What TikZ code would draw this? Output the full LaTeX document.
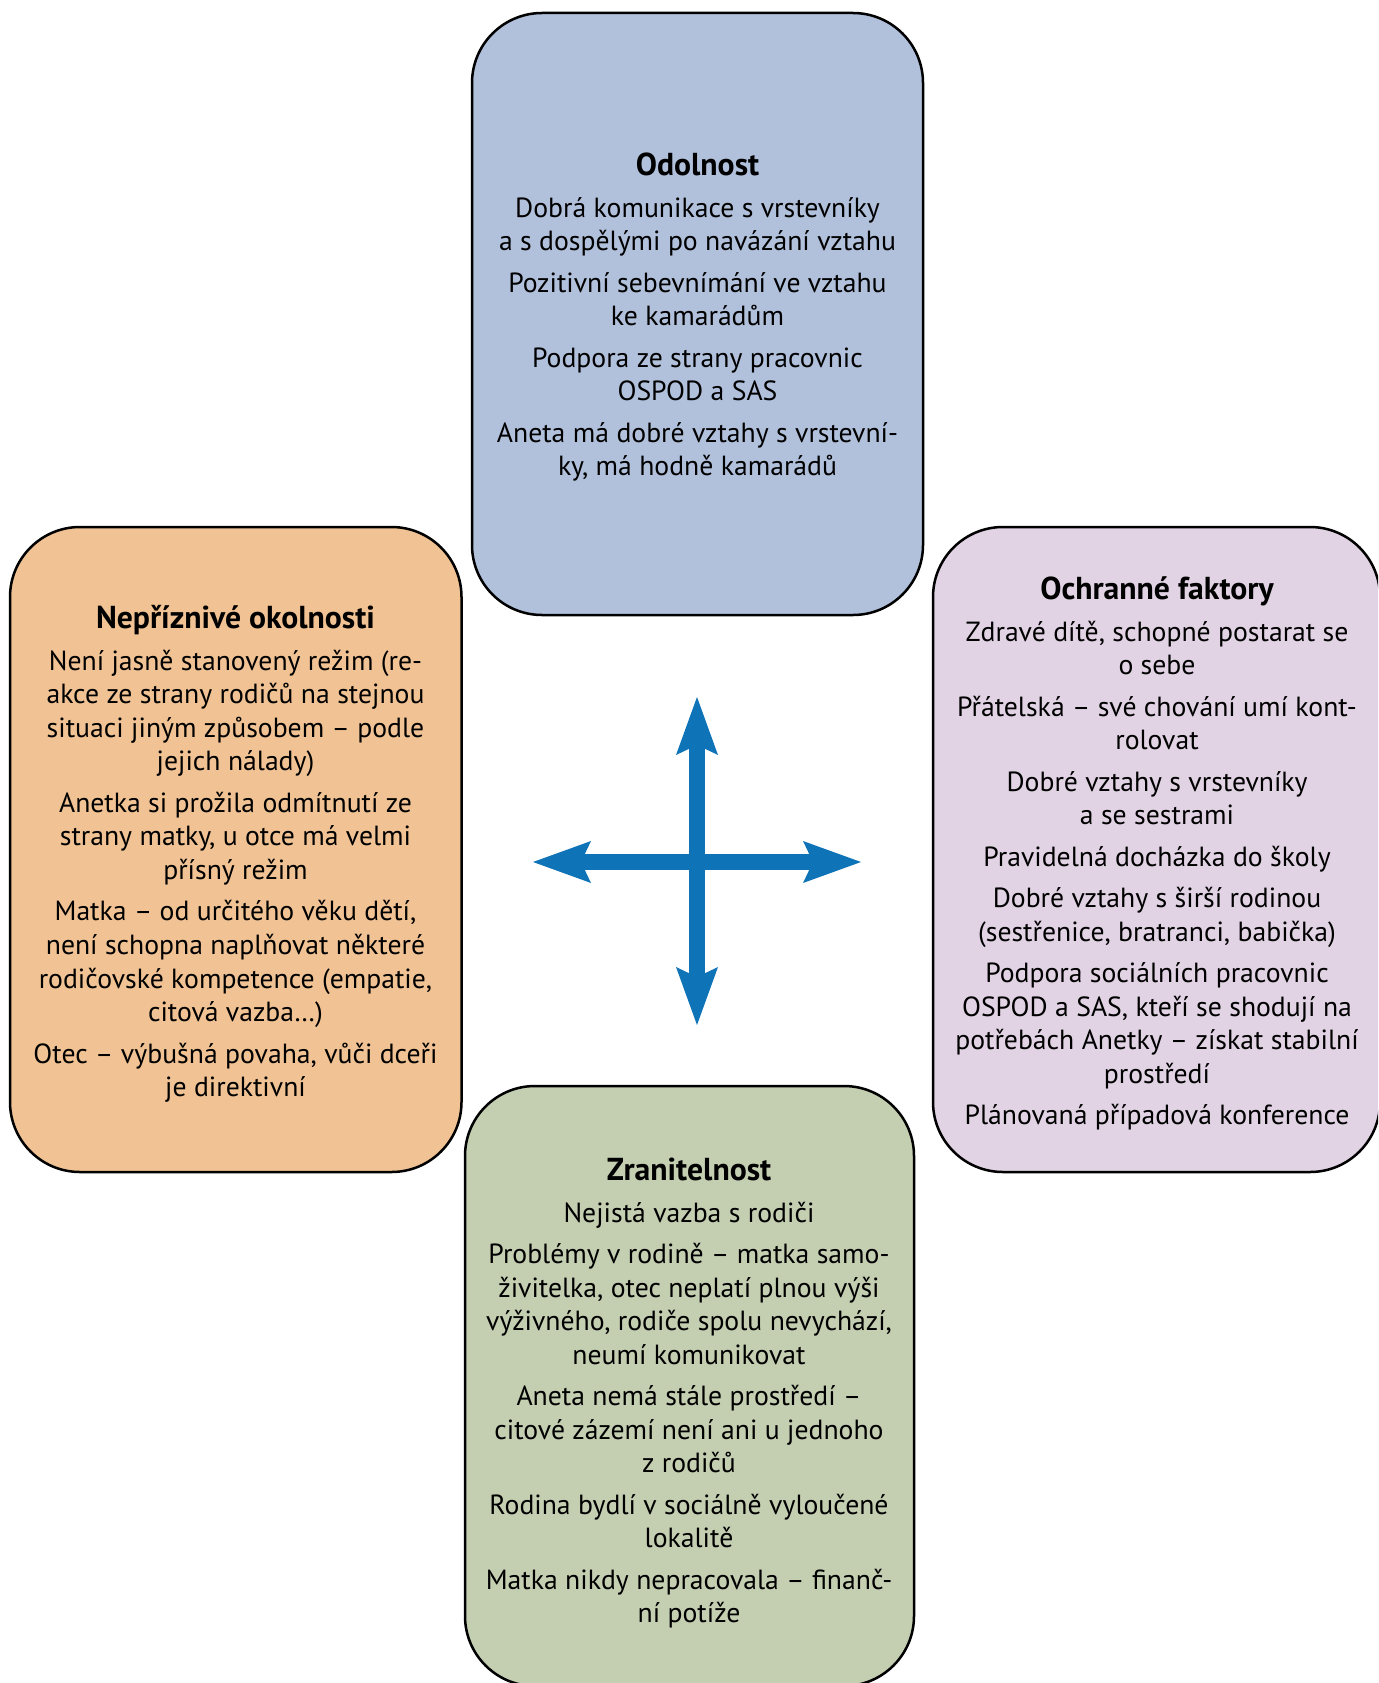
\documentclass[tikz,border=0pt]{standalone}
\usepackage{fontspec}
\setmainfont{PT Sans}
\usetikzlibrary{arrows.meta}
\definecolor{cblue}{HTML}{B1C1DC}
\definecolor{corange}{HTML}{F1C394}
\definecolor{cpurple}{HTML}{E1D3E4}
\definecolor{cgreen}{HTML}{C4CEB1}
\definecolor{carrow}{HTML}{0E73B7}
\tikzset{
  box/.style={draw=black, line width=2.5pt, rounded corners=70pt, inner sep=0pt},
  boxtext/.style={align=center, inner sep=0pt, anchor=base,
    font=\fontsize{27.7}{33.6}\selectfont},
  boxtitle/.style={inner sep=0pt, anchor=base,
    font=\fontsize{31.7}{36}\selectfont\bfseries},
  bigarrow/.style={draw=carrow, line width=16pt,
    {Stealth[length=58pt,width=42pt,inset=10pt,line width=0pt]}-{Stealth[length=58pt,width=42pt,inset=10pt,line width=0pt]}},
}
\begin{document}
\begin{tikzpicture}[x=1pt,y=-1pt]
\useasboundingbox (0,0) rectangle (1378,1683);
\clip (0,0) rectangle (1378,1683);
% boxes
\node[box, fill=cblue, minimum width=451pt, minimum height=602pt] (odol) at (697.5,314) {};
\node[box, fill=corange, minimum width=451.5pt, minimum height=645pt] (nepr) at (235.75,849.5) {};
\node[box, fill=cpurple, minimum width=447pt, minimum height=645pt] (ochr) at (1156.5,849.5) {};
\node[box, fill=cgreen, minimum width=449pt, minimum height=600pt] (zran) at (689.5,1386) {};
% titles
\node[boxtitle] (hodol) at (697.5,175) {Odolnost};
\node[boxtitle] (hnepr) at (235.5,628) {Nepříznivé okolnosti};
\node[boxtitle] (hochr) at (1157,599) {Ochranné faktory};
\node[boxtitle] (hzran) at (689,1180) {Zranitelnost};
% texts (anchor base = last baseline)
\node[boxtext] (todol) at (697.5,475.6) {Dobrá komunikace s vrstevníky\\
a s dospělými po navázání vztahu\\[7.8pt]
Pozitivní sebevnímání ve vztahu\\
ke kamarádům\\[7.8pt]
Podpora ze strany pracovnic\\
OSPOD a SAS\\[7.8pt]
Aneta má dobré vztahy s vrstevní-\\
ky, má hodně kamarádů};
\node[boxtext] (tnepr) at (235.5,1096.6) {Není jasně stanovený režim (re-\\
akce ze strany rodičů na stejnou\\
situaci jiným způsobem – podle\\
jejich nálady)\\[7.8pt]
Anetka si prožila odmítnutí ze\\
strany matky, u otce má velmi\\
přísný režim\\[7.8pt]
Matka – od určitého věku dětí,\\
není schopna naplňovat některé\\
rodičovské kompetence (empatie,\\
citová vazba…)\\[7.8pt]
Otec – výbušná povaha, vůči dceři\\
je direktivní};
\node[boxtext] (tochr) at (1157,1124.6) {Zdravé dítě, schopné postarat se\\
o sebe\\[7.8pt]
Přátelská – své chování umí kont-\\
rolovat\\[7.8pt]
Dobré vztahy s vrstevníky\\
a se sestrami\\[7.8pt]
Pravidelná docházka do školy\\[7.8pt]
Dobré vztahy s širší rodinou\\
(sestřenice, bratranci, babička)\\[7.8pt]
Podpora sociálních pracovnic\\
OSPOD a SAS, kteří se shodují na\\
potřebách Anetky – získat stabilní\\
prostředí\\[7.8pt]
Plánovaná případová konference};
\node[boxtext] (tzran) at (689,1622.8) {Nejistá vazba s rodiči\\[7.8pt]
Problémy v rodině – matka samo-\\
živitelka, otec neplatí plnou výši\\
výživného, rodiče spolu nevychází,\\
neumí komunikovat\\[7.8pt]
Aneta nemá stále prostředí –\\
citové zázemí není ani u jednoho\\
z rodičů\\[7.8pt]
Rodina bydlí v sociálně vyloučené\\
lokalitě\\[7.8pt]
Matka nikdy nepracovala – finanč-\\
ní potíže};
% cross arrows
\coordinate (aw) at (533,862);
\coordinate (ae) at (861,862);
\coordinate (an) at (697,697);
\coordinate (as) at (697,1025);
\draw[bigarrow] (aw) -- (ae);
\draw[bigarrow] (an) -- (as);
\end{tikzpicture}
\end{document}
